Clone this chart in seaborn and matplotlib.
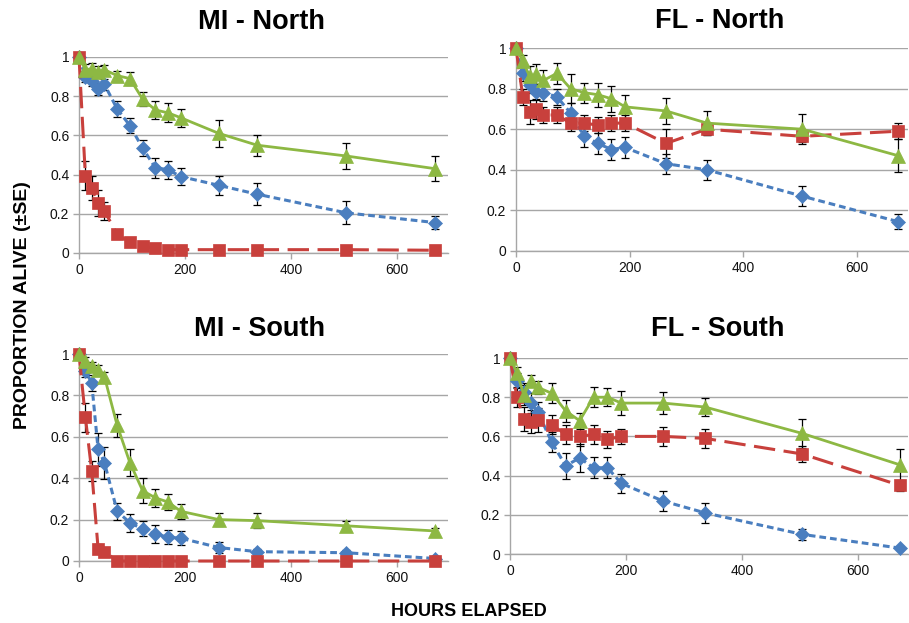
import pandas as pd
import numpy as np
import seaborn as sns
import matplotlib.pyplot as plt

# sampling times (hours)
hours = [0, 12, 24, 36, 48, 72, 96, 120, 144, 168, 192, 264, 336, 504, 672]

# MI - North
mn_blue = [1.0, 0.90, 0.88, 0.835, 0.86, 0.735, 0.65, 0.535, 0.435, 0.425, 0.39, 0.345, 0.30, 0.205, 0.155]
mn_blue_se = [0, 0.03, 0.03, 0.03, 0.03, 0.04, 0.037, 0.04, 0.05, 0.045, 0.045, 0.047, 0.055, 0.058, 0.035]
mn_red = [1.0, 0.395, 0.33, 0.255, 0.215, 0.095, 0.055, 0.035, 0.025, 0.017, 0.017, 0.017, 0.017, 0.017, 0.014]
mn_red_se = [0, 0.075, 0.062, 0.065, 0.045, 0.02, 0.015, 0.01, 0.01, 0.01, 0.01, 0.01, 0.01, 0.01, 0.01]
mn_green = [1.0, 0.935, 0.94, 0.925, 0.935, 0.905, 0.89, 0.785, 0.73, 0.715, 0.69, 0.61, 0.55, 0.495, 0.43]
mn_green_se = [0, 0.03, 0.03, 0.03, 0.025, 0.025, 0.035, 0.035, 0.048, 0.048, 0.047, 0.068, 0.054, 0.068, 0.063]

# FL - North
fn_blue = [1.0, 0.875, 0.82, 0.785, 0.78, 0.76, 0.68, 0.565, 0.53, 0.50, 0.51, 0.43, 0.40, 0.27, 0.145]
fn_blue_se = [0, 0.04, 0.04, 0.04, 0.04, 0.04, 0.05, 0.053, 0.05, 0.05, 0.054, 0.05, 0.05, 0.05, 0.035]
fn_red = [1.0, 0.76, 0.685, 0.70, 0.67, 0.67, 0.63, 0.63, 0.62, 0.63, 0.63, 0.53, 0.60, 0.565, 0.59]
fn_red_se = [0, 0.04, 0.06, 0.05, 0.04, 0.04, 0.04, 0.04, 0.04, 0.04, 0.04, 0.07, 0.03, 0.03, 0.04]
fn_green = [1.0, 0.935, 0.86, 0.87, 0.84, 0.875, 0.80, 0.78, 0.77, 0.75, 0.71, 0.69, 0.63, 0.60, 0.47]
fn_green_se = [0, 0.03, 0.05, 0.05, 0.05, 0.05, 0.07, 0.05, 0.06, 0.065, 0.06, 0.065, 0.06, 0.075, 0.08]

# MI - South
ms_blue = [1.0, 0.92, 0.86, 0.54, 0.475, 0.24, 0.185, 0.155, 0.13, 0.115, 0.11, 0.065, 0.045, 0.04, 0.012]
ms_blue_se = [0, 0.03, 0.04, 0.08, 0.077, 0.04, 0.043, 0.036, 0.043, 0.033, 0.033, 0.026, 0.015, 0.015, 0.01]
ms_red = [1.0, 0.695, 0.435, 0.06, 0.045, 0, 0, 0, 0, 0, 0, 0, 0, 0, 0]
ms_red_se = [0, 0.07, 0.05, 0.02, 0.015, 0, 0, 0, 0, 0, 0, 0, 0, 0, 0]
ms_green = [1.0, 0.965, 0.94, 0.925, 0.89, 0.655, 0.475, 0.34, 0.305, 0.285, 0.24, 0.20, 0.195, 0.17, 0.145]
ms_green_se = [0, 0.02, 0.02, 0.02, 0.025, 0.055, 0.065, 0.06, 0.042, 0.04, 0.037, 0.03, 0.035, 0.025, 0.015]

# FL - South
fs_blue = [1.0, 0.885, 0.825, 0.77, 0.725, 0.57, 0.45, 0.49, 0.44, 0.44, 0.36, 0.27, 0.21, 0.10, 0.03]
fs_blue_se = [0, 0.04, 0.05, 0.05, 0.05, 0.05, 0.065, 0.07, 0.053, 0.053, 0.047, 0.05, 0.05, 0.03, 0.01]
fs_red = [1.0, 0.80, 0.69, 0.675, 0.685, 0.66, 0.61, 0.60, 0.61, 0.585, 0.60, 0.60, 0.59, 0.51, 0.35]
fs_red_se = [0, 0.05, 0.06, 0.06, 0.06, 0.05, 0.05, 0.05, 0.05, 0.045, 0.04, 0.05, 0.05, 0.04, 0.03]
fs_green = [1.0, 0.925, 0.81, 0.885, 0.85, 0.82, 0.73, 0.68, 0.80, 0.80, 0.77, 0.77, 0.75, 0.615, 0.455]
fs_green_se = [0, 0.03, 0.05, 0.03, 0.035, 0.05, 0.055, 0.04, 0.05, 0.045, 0.06, 0.055, 0.045, 0.075, 0.08]

panels = [
    ("MI - North", mn_blue, mn_blue_se, mn_red, mn_red_se, mn_green, mn_green_se),
    ("FL - North", fn_blue, fn_blue_se, fn_red, fn_red_se, fn_green, fn_green_se),
    ("MI - South", ms_blue, ms_blue_se, ms_red, ms_red_se, ms_green, ms_green_se),
    ("FL - South", fs_blue, fs_blue_se, fs_red, fs_red_se, fs_green, fs_green_se),
]

colors = {"blue": "#4a7ebf", "red": "#c8403c", "green": "#8db843"}
markers = {"blue": "D", "red": "s", "green": "^"}
dashes = {"blue": (2.2, 1.3), "red": (7, 2.8), "green": ""}
msize = {"blue": 7, "red": 9, "green": 10}

# axes boxes in pixels: left, right, top(y=1), bottom(y=0), xmax, title x, title y
W, H = 909, 623
boxes = [
    (79, 448, 57, 253, 696, 261, 22),
    (516, 908, 48, 251, 690, 720, 21),
    (79, 448, 354, 561, 696, 259, 329),
    (510, 908, 358, 554, 686, 718, 329),
]

sns.set_style("white")
plt.rcParams['font.family'] = ['Liberation Sans', 'DejaVu Sans']
plt.rcParams['text.color'] = 'black'

fig = plt.figure(figsize=(W / 100, H / 100), dpi=100)

for (title, b, bse, r, rse, g, gse), (l, rt, t, bt, xmax, tx, ty) in zip(panels, boxes):
    ax = fig.add_axes([l / W, (H - bt) / H, (rt - l) / W, (bt - t) / H])
    df = pd.DataFrame({
        "hours": hours * 3,
        "prop": b + r + g,
        "se": bse + rse + gse,
        "group": ["blue"] * 15 + ["red"] * 15 + ["green"] * 15,
    })
    for grp in ["blue", "red", "green"]:
        sub = df[df["group"] == grp]
        ax.errorbar(sub["hours"], sub["prop"], yerr=sub["se"], fmt="none",
                    ecolor="black", elinewidth=0.9, capsize=3, capthick=0.9,
                    zorder=3, clip_on=False)
        sns.lineplot(data=sub, x="hours", y="prop", ax=ax, color=colors[grp],
                     marker=markers[grp], markersize=msize[grp],
                     markeredgecolor=colors[grp], markeredgewidth=0.5,
                     linewidth=2.2 if grp != "green" else 2.0,
                     dashes=False, estimator=None, sort=False,
                     zorder=4, clip_on=False)
        line = ax.get_lines()[-1]
        if dashes[grp]:
            line.set_dashes(dashes[grp])
    ax.set_xlim(0, xmax)
    ax.set_ylim(0, 1)
    ax.set_xticks([0, 200, 400, 600])
    ax.set_yticks([0, 0.2, 0.4, 0.6, 0.8, 1.0])
    ax.set_yticklabels(["0", "0.2", "0.4", "0.6", "0.8", "1"])
    ax.yaxis.grid(True, color="#a6a6a6", linewidth=1.0)
    ax.set_axisbelow(True)
    for side in ["top", "right"]:
        ax.spines[side].set_visible(False)
    for side in ["left", "bottom"]:
        ax.spines[side].set_color("#a6a6a6")
        ax.spines[side].set_linewidth(1.0)
    ax.tick_params(axis="both", labelsize=10, colors="#a6a6a6", labelcolor="#111111",
                   length=4, width=1, direction="out", left=True, bottom=True, pad=3)
    ax.set_xlabel("")
    ax.set_ylabel("")
    fig.text(tx / W, 1 - ty / H, title, ha="center", va="center",
             fontsize=19.5, fontweight="bold", color="black")

fig.text(23 / W, 1 - 305 / H, "PROPORTION ALIVE (±SE)", rotation=90, ha="center",
         va="center", fontsize=14, fontweight="bold", color="black")
fig.text(469 / W, 1 - 611 / H, "HOURS ELAPSED", ha="center", va="center",
         fontsize=13, fontweight="bold", color="black")

fig.savefig("out.png", dpi=100)
